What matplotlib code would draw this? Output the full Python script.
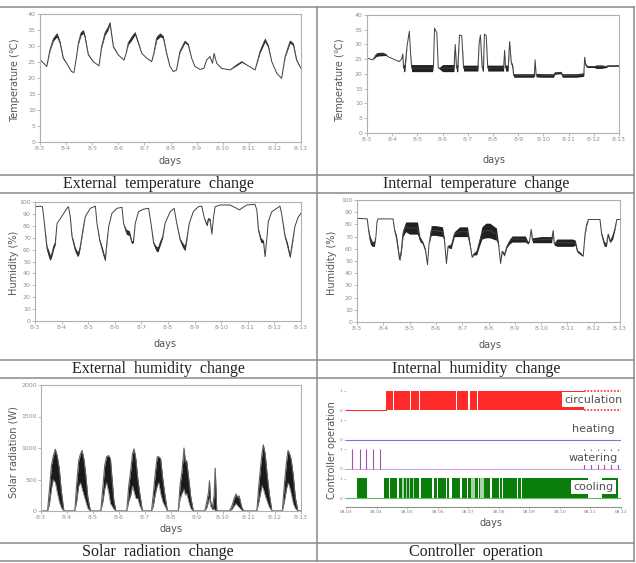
import matplotlib
matplotlib.use("Agg")
import matplotlib.pyplot as plt
from matplotlib.lines import Line2D
import numpy as np

# ---- data (t = days since 8-3) ----
day_labels = ["8-3", "8-4", "8-5", "8-6", "8-7", "8-8", "8-9", "8-10", "8-11", "8-12", "8-13"]
ctrl_labels = ["08-03", "08-04", "08-05", "08-06", "08-07", "08-08", "08-09", "08-10", "08-11", "08-12"]

# (t, value, noise half-width)
ext_temp = [(0, 25.8, 0), (0.26, 23.6, 0), (0.38, 28.8, 0.3), (0.51, 32.1, 0.5), (0.64, 33.5, 0.7),
            (0.7, 32.5, 0.6), (0.77, 30.9, 0.4), (0.89, 26.2, 0.2), (1.02, 24.6, 0), (1.21, 22, 0),
            (1.3, 21.7, 0), (1.38, 25.6, 0), (1.47, 30.9, 0.3), (1.57, 34, 0.6), (1.66, 34.5, 0.6),
            (1.72, 33, 0.4), (1.85, 27.3, 0.2), (2.04, 25.1, 0), (2.26, 23.8, 0), (2.36, 29.8, 0.3),
            (2.49, 34, 0.6), (2.6, 35.5, 0.6), (2.68, 37.2, 0.3), (2.81, 29.8, 0.2), (3.0, 27.2, 0),
            (3.22, 25.6, 0), (3.3, 27.7, 0), (3.38, 30.9, 0.5), (3.51, 32.5, 0.7), (3.64, 34, 0.5),
            (3.77, 30.9, 0.3), (3.9, 27.7, 0), (4.09, 26.2, 0), (4.28, 25.1, 0), (4.36, 27.7, 0.2),
            (4.47, 32.5, 0.6), (4.6, 33.5, 0.6), (4.72, 32.8, 0.4), (4.85, 27.7, 0.2), (4.98, 23.6, 0),
            (5.11, 22, 0), (5.23, 22.5, 0), (5.36, 28.3, 0.3), (5.55, 31.4, 0.4), (5.68, 30.4, 0.3),
            (5.81, 26.2, 0), (5.94, 23.6, 0), (6.13, 22.7, 0), (6.28, 23, 0), (6.38, 25.6, 0),
            (6.51, 26.7, 0), (6.61, 24.6, 0), (6.67, 27.7, 0), (6.77, 24.6, 0), (6.96, 23, 0),
            (7.28, 22.5, 0), (7.54, 24.1, 0.2), (7.73, 25.1, 0.2), (7.92, 24.1, 0), (8.24, 22.5, 0),
            (8.43, 28.3, 0.4), (8.62, 31.9, 0.6), (8.75, 29.8, 0.4), (8.88, 25.1, 0), (9.07, 21.5, 0),
            (9.26, 19.9, 0), (9.39, 26.7, 0.2), (9.58, 31.4, 0.5), (9.71, 30.4, 0.4), (9.83, 25.6, 0.2),
            (10, 23, 0)]

int_temp = [(0, 25.4, 0), (0.23, 24.8, 0), (0.36, 26.5, 0.6), (0.45, 26.7, 0.6), (0.6, 26.8, 0.6),
            (0.75, 26.6, 0.3), (0.82, 25.9, 0), (1.28, 24.2, 0), (1.38, 25.2, 0), (1.42, 26.8, 0),
            (1.45, 22, 1.2), (1.5, 22, 1.2), (1.59, 29.5, 0), (1.68, 34.5, 0), (1.73, 27, 0),
            (1.77, 22, 1.2), (2.0, 22, 1.2), (2.3, 22, 1.2), (2.6, 22, 1.2), (2.64, 23, 0),
            (2.68, 35.5, 0), (2.77, 34, 0), (2.83, 22, 0), (3.0, 22, 1.2), (3.3, 22, 1.2),
            (3.45, 22, 1.2), (3.5, 30, 0), (3.55, 22, 1.2), (3.6, 22, 1.2), (3.67, 33.2, 0),
            (3.76, 33, 0), (3.83, 22, 1.0), (4.1, 22, 1.0), (4.4, 22, 1.0), (4.45, 30.5, 0),
            (4.5, 33.2, 0), (4.57, 22, 1.0), (4.62, 22, 1.0), (4.66, 33.5, 0), (4.73, 33, 0),
            (4.79, 22, 1.0), (5.1, 22, 1.0), (5.35, 22, 1.0), (5.42, 22, 1.0), (5.46, 28, 0),
            (5.5, 22, 1.0), (5.6, 22, 1.0), (5.66, 31, 0), (5.72, 24, 0.5), (5.78, 22.5, 0.5),
            (5.82, 19.5, 0.6), (6.2, 19.5, 0.6), (6.6, 19.5, 0.6), (6.64, 19.8, 0.6), (6.67, 24.8, 0),
            (6.71, 19.6, 0.6), (7.0, 19.5, 0.6), (7.4, 19.5, 0.6), (7.45, 20.3, 0.4), (7.7, 20.5, 0.4),
            (7.75, 19.5, 0.6), (8.3, 19.5, 0.6), (8.6, 19.8, 0.6), (8.64, 25.7, 0), (8.68, 23, 0.5),
            (8.75, 22.5, 0.3), (9.0, 22.5, 0.3), (9.1, 22.5, 0.6), (9.3, 22.5, 0.6), (9.5, 22.5, 0.3),
            (9.55, 22.8, 0.2), (10, 22.8, 0.2)]

ext_hum = [(0, 96, 0), (0.2, 96.5, 0), (0.28, 96, 0), (0.33, 87, 0), (0.39, 73.7, 1), (0.45, 61, 2),
           (0.52, 56, 3), (0.58, 53, 2), (0.64, 57, 2), (0.7, 62.5, 2), (0.76, 65.3, 1), (0.83, 82, 0),
           (0.95, 86, 0), (1.08, 90.4, 0), (1.2, 94.7, 0), (1.26, 96, 0), (1.33, 87, 0), (1.39, 71, 1),
           (1.51, 60, 2), (1.6, 56, 2), (1.65, 58, 2), (1.7, 62.5, 1), (1.8, 76.5, 1), (1.89, 87.7, 0),
           (2.08, 94.7, 0), (2.27, 96.5, 0), (2.33, 82, 0), (2.43, 68, 1), (2.55, 58.3, 2), (2.64, 51.3, 1),
           (2.7, 65.3, 1), (2.77, 79.3, 0), (2.89, 90.4, 0), (3.08, 94.7, 0), (3.27, 95.5, 0), (3.33, 82, 0),
           (3.43, 75, 2), (3.55, 73.7, 2), (3.64, 66, 1), (3.7, 66.9, 1), (3.77, 82, 0), (3.89, 91.8, 0),
           (4.08, 94, 0), (4.27, 94.7, 0), (4.36, 82, 0), (4.46, 65.3, 1), (4.55, 61, 2), (4.62, 60, 2),
           (4.7, 65.3, 2), (4.8, 70.9, 1), (4.89, 82, 0), (5.08, 91.8, 0), (5.23, 94.7, 0), (5.33, 82, 0),
           (5.46, 68, 1), (5.55, 63.8, 2), (5.64, 61, 2), (5.7, 68, 1), (5.8, 82, 0), (5.95, 91.8, 0),
           (6.14, 96, 0), (6.27, 96.5, 0), (6.36, 87, 0), (6.46, 80.7, 1), (6.52, 86, 1), (6.58, 84.9, 1),
           (6.65, 73, 0), (6.71, 87, 0), (6.77, 96, 0), (6.96, 97.5, 0), (7.33, 97.5, 0), (7.46, 96, 0),
           (7.58, 94.7, 0), (7.69, 93.3, 0), (7.77, 94.7, 0), (7.96, 97.5, 0), (8.27, 98, 0), (8.34, 93.3, 0),
           (8.4, 76.5, 1), (8.49, 68, 2), (8.59, 66.6, 1), (8.65, 54, 0), (8.71, 68, 0), (8.77, 83.5, 0),
           (8.9, 91.8, 0), (9.09, 94.7, 0), (9.21, 96.5, 0), (9.27, 90.4, 0), (9.4, 70.9, 1), (9.49, 63.8, 2),
           (9.59, 54, 1), (9.69, 68, 1), (9.77, 79.3, 0), (9.9, 87.7, 0), (10, 90.4, 0)]

int_hum = [(0, 85, 0), (0.39, 84.5, 0), (0.44, 75, 1), (0.5, 67, 3), (0.58, 64, 2), (0.66, 64, 2),
           (0.72, 70, 0), (0.76, 82, 0), (0.8, 84.5, 0), (1.37, 84.5, 0), (1.43, 75, 1), (1.5, 69, 2),
           (1.56, 60, 2), (1.62, 51, 1), (1.68, 58, 2), (1.75, 73, 3), (1.85, 78, 4), (2.0, 77, 5),
           (2.3, 77, 5), (2.39, 68, 2), (2.5, 65, 1), (2.6, 59, 1), (2.68, 47, 0), (2.74, 64, 0),
           (2.82, 75, 4), (3.0, 75, 4), (3.25, 74, 4), (3.32, 68, 1), (3.4, 48, 0), (3.46, 62, 1),
           (3.58, 62, 2), (3.7, 72, 2), (3.9, 74, 4), (4.2, 74, 4), (4.3, 63, 1), (4.38, 53, 0),
           (4.45, 56, 1), (4.55, 57, 2), (4.65, 65, 3), (4.75, 73, 5), (4.9, 75, 6), (5.05, 75, 6),
           (5.3, 72, 5), (5.38, 64, 1), (5.46, 48, 0), (5.52, 58, 1), (5.6, 55, 1), (5.7, 62, 1),
           (5.8, 66, 2), (5.9, 68, 2.5), (6.4, 68, 2.5), (6.5, 65, 1), (6.56, 66, 0), (6.62, 76, 0),
           (6.67, 67, 2), (7.0, 67.5, 2.5), (7.4, 67.5, 2.5), (7.46, 75, 0), (7.5, 64, 1), (7.6, 65, 3),
           (8.2, 65, 3), (8.3, 65, 2), (8.38, 58, 1), (8.5, 56, 1), (8.6, 54, 0), (8.67, 72, 1),
           (8.73, 80, 1), (8.8, 84, 0), (9.24, 84, 0), (9.3, 72, 1), (9.4, 64, 2), (9.48, 63, 1),
           (9.55, 72, 1), (9.62, 66, 1), (9.72, 70, 2), (9.8, 76, 1), (9.88, 84, 0), (10, 84, 0)]

# (t, low, high) envelope of solar radiation
solar = [(0, 0, 0),
         (0.25, 0, 0), (0.32, 100, 320), (0.40, 350, 720), (0.47, 500, 870), (0.55, 450, 980),
         (0.62, 300, 880), (0.70, 150, 680), (0.78, 50, 320), (0.88, 0, 0),
         (1.30, 0, 0), (1.37, 150, 420), (1.45, 400, 800), (1.52, 450, 910), (1.58, 350, 960),
         (1.65, 250, 820), (1.72, 150, 580), (1.80, 40, 220), (1.90, 0, 0),
         (2.30, 0, 0), (2.38, 150, 380), (2.45, 350, 720), (2.52, 450, 860), (2.60, 300, 880),
         (2.67, 120, 830), (2.73, 80, 520), (2.80, 30, 170), (2.88, 0, 0),
         (3.30, 0, 0), (3.37, 150, 380), (3.45, 250, 640), (3.52, 400, 910), (3.58, 300, 985),
         (3.65, 200, 820), (3.72, 200, 520), (3.80, 80, 270), (3.90, 0, 0),
         (4.25, 0, 0), (4.32, 80, 270), (4.40, 280, 620), (4.47, 400, 860), (4.53, 450, 860),
         (4.60, 280, 830), (4.68, 150, 520), (4.76, 80, 270), (4.86, 0, 0),
         (5.28, 0, 0), (5.35, 200, 420), (5.42, 280, 620), (5.50, 350, 1000), (5.55, 250, 780),
         (5.60, 280, 800), (5.68, 150, 520), (5.76, 40, 220), (5.86, 0, 0),
         (6.30, 0, 0), (6.38, 60, 160), (6.44, 150, 290), (6.48, 200, 480), (6.52, 80, 160),
         (6.60, 20, 60), (6.66, 40, 260), (6.70, 0, 680), (6.76, 0, 0),
         (7.25, 0, 0), (7.35, 30, 90), (7.42, 80, 190), (7.50, 120, 270), (7.57, 80, 210),
         (7.62, 60, 240), (7.66, 40, 160), (7.72, 15, 60), (7.80, 0, 0),
         (8.30, 0, 0), (8.38, 150, 420), (8.45, 300, 720), (8.50, 400, 910), (8.55, 350, 1050),
         (8.62, 250, 910), (8.70, 150, 570), (8.78, 60, 270), (8.88, 0, 0),
         (9.28, 0, 0), (9.36, 150, 420), (9.44, 350, 770), (9.50, 450, 960), (9.55, 400, 920),
         (9.62, 280, 820), (9.70, 120, 570), (9.78, 40, 220), (9.88, 0, 0),
         (10, 0, 0)]

# controller on-intervals (days on the controller axis)
circulation_on = [(1.30, 1.55), (1.57, 1.85), (1.87, 2.10), (2.12, 2.40), (2.42, 2.70), (2.72, 3.00),
                  (3.02, 3.30), (3.32, 3.60), (3.62, 3.98), (4.06, 4.30), (4.32, 4.60), (4.62, 4.90),
                  (4.92, 5.16), (5.18, 7.80)]
circulation_dotted = (7.80, 9.0)
watering_spikes = [0.21, 0.45, 0.66, 0.88, 1.10, 7.80, 8.02, 8.24, 8.45, 8.67, 8.89]
cooling_on = [(0.36, 0.70), (1.23, 1.40), (1.45, 1.68), (1.72, 1.84), (1.90, 1.95), (2.00, 2.05),
              (2.10, 2.20), (2.24, 2.38), (2.45, 2.80), (2.87, 2.98), (3.02, 3.26), (3.31, 3.37),
              (3.46, 3.74), (3.79, 3.95), (3.98, 4.08), (4.22, 4.32), (4.36, 4.40), (4.50, 4.72),
              (4.78, 5.00), (5.04, 5.11), (5.15, 5.60), (5.64, 5.72), (5.75, 7.91), (8.39, 8.89)]
cooling_light = [(1.84, 2.24), (4.08, 4.22), (4.40, 4.50)]

W, H = 636, 563
fig = plt.figure(figsize=(W / 100, H / 100), dpi=100)
plt.rcParams['font.family'] = 'DejaVu Sans'


def rect(l, t, r, b):
    return [l / W, 1 - b / H, (r - l) / W, (b - t) / H]


def ftext(x, y, s, **kw):
    fig.text(x / W, 1 - y / H, s, ha='center', va='center', **kw)


def style(ax, yticks):
    for sp in ax.spines.values():
        sp.set_color('#b0b0b0')
        sp.set_linewidth(0.8)
    ax.set_xlim(0, 10)
    ax.set_xticks(range(11))
    ax.set_xticklabels(day_labels)
    ax.set_yticks(yticks)
    ax.set_ylim(yticks[0], yticks[-1])
    ax.tick_params(labelsize=4.5, colors='#a0a0a0', labelcolor='#909090', length=2, width=0.5, pad=1)


def series(ax, data):
    arr = np.array(data, dtype=float)
    t, v, b = arr[:, 0], arr[:, 1], arr[:, 2]
    ax.fill_between(t, v - b, v + b, color='#202020', lw=0)
    ax.plot(t, v, color='#404040', lw=0.7)


lab = dict(fontsize=7, color='#555555')

# external temperature
ax1 = fig.add_axes(rect(40, 14, 301, 142))
series(ax1, ext_temp)
style(ax1, list(range(0, 41, 5)))
ftext(15, 80, 'Temperature (℃)', rotation=90, **lab)
ftext(170, 161, 'days', **lab)

# internal temperature
ax2 = fig.add_axes(rect(367, 15, 619, 133))
series(ax2, int_temp)
style(ax2, list(range(0, 41, 5)))
ftext(340, 80, 'Temperature (℃)', rotation=90, **lab)
ftext(494, 160, 'days', **lab)

# external humidity
ax3 = fig.add_axes(rect(35, 202, 301, 321))
series(ax3, ext_hum)
style(ax3, list(range(0, 101, 10)))
ftext(14, 263, 'Humidity (%)', rotation=90, **lab)
ftext(165, 344, 'days', **lab)

# internal humidity
ax4 = fig.add_axes(rect(357, 200, 620, 322))
series(ax4, int_hum)
style(ax4, list(range(0, 101, 10)))
ftext(332, 263, 'Humidity (%)', rotation=90, **lab)
ftext(490, 345, 'days', **lab)

# solar radiation
ax5 = fig.add_axes(rect(41, 385, 301, 511))
sarr = np.array(solar, dtype=float)
ax5.fill_between(sarr[:, 0], sarr[:, 1], sarr[:, 2], color='#1a1a1a', lw=0)
ax5.plot(sarr[:, 0], sarr[:, 2], color='#606060', lw=0.8)
ax5.plot(sarr[:, 0], sarr[:, 1], color='#808080', lw=0.5)
style(ax5, [0, 500, 1000, 1500, 2000])
ftext(14, 452, 'Solar radiation (W)', rotation=90, **lab)
ftext(171, 529, 'days', **lab)

# controller operation
ax6 = fig.add_axes(rect(346, 380, 621, 507))
u = 19.5
ax6.set_ylim(-9 / u, (507 - 380 - 9) / u)
ax6.set_xlim(0, 9)
off_cool, off_wat, off_heat, off_circ = 0, 1.5, 3.0, 4.5
red, green = '#ff2a2a', '#0a7d0a'

ax6.plot([0, 1.30], [off_circ, off_circ], color=red, lw=0.8)
for a, b in circulation_on:
    ax6.fill_between([a, b], off_circ, off_circ + 1, color=red, lw=0)
a, b = circulation_dotted
ax6.plot([a, b], [off_circ + 1, off_circ + 1], color=red, lw=1.2, ls=(0, (1, 1)))
ax6.plot([a, b], [off_circ, off_circ], color=red, lw=1.2, ls=(0, (1, 1)))

ax6.plot([0, 9], [off_heat, off_heat], color='#8070e0', lw=0.8)

ax6.plot([0, 9], [off_wat, off_wat], color='#d8a0e0', lw=0.8)
ax6.vlines(watering_spikes, off_wat, off_wat + 1, color='#a050b0', lw=0.8)

ax6.plot([0, 9], [off_cool, off_cool], color='#60c060', lw=0.8)
for a, b in cooling_light:
    ax6.fill_between([a, b], off_cool, off_cool + 1, color=green, alpha=0.35, lw=0)
for a, b in cooling_on:
    ax6.fill_between([a, b], off_cool, off_cool + 1, color=green, lw=0)

box = dict(facecolor='white', edgecolor='none', pad=1.5)
for name, off in [('circulation', off_circ), ('heating', off_heat),
                  ('watering', off_wat), ('cooling', off_cool)]:
    ax6.text(8.1, off + 0.55, name, ha='center', va='center', fontsize=8,
             color='#505050', bbox=box, zorder=5)

for side in ['top', 'right', 'left']:
    ax6.spines[side].set_visible(False)
ax6.spines['bottom'].set_color('#909090')
ax6.spines['bottom'].set_linewidth(0.8)
ax6.set_xticks(range(10))
ax6.set_xticklabels(ctrl_labels)
ax6.set_yticks([off_cool, off_cool + 1, off_wat, off_wat + 1, off_heat, off_heat + 1, off_circ, off_circ + 1])
ax6.set_yticklabels(['0', '1'] * 4)
ax6.tick_params(labelsize=3.2, colors='#909090', labelcolor='#808080', length=1.5, width=0.4, pad=1)
ftext(332, 450, 'Controller operation', rotation=90, **lab)
ftext(491, 523, 'days', **lab)

# table frame
lc = dict(color='#8a8a8a', lw=1.1, transform=fig.transFigure)
for y in [7, 175, 193, 360, 378, 543, 561]:
    fig.add_artist(Line2D([0, 634 / W], [1 - y / H] * 2, **lc))
for x in [317, 634]:
    fig.add_artist(Line2D([x / W] * 2, [1 - 7 / H, 1 - 561 / H], **lc))

cap = dict(fontsize=11.5, color='#222222', family='Liberation Serif')
ftext(158, 184, 'External  temperature  change', **cap)
ftext(476, 184, 'Internal  temperature  change', **cap)
ftext(158, 369, 'External  humidity  change', **cap)
ftext(476, 369, 'Internal  humidity  change', **cap)
ftext(158, 552, 'Solar  radiation  change', **cap)
ftext(476, 552, 'Controller  operation', **cap)

fig.savefig('out.png', dpi=100)
